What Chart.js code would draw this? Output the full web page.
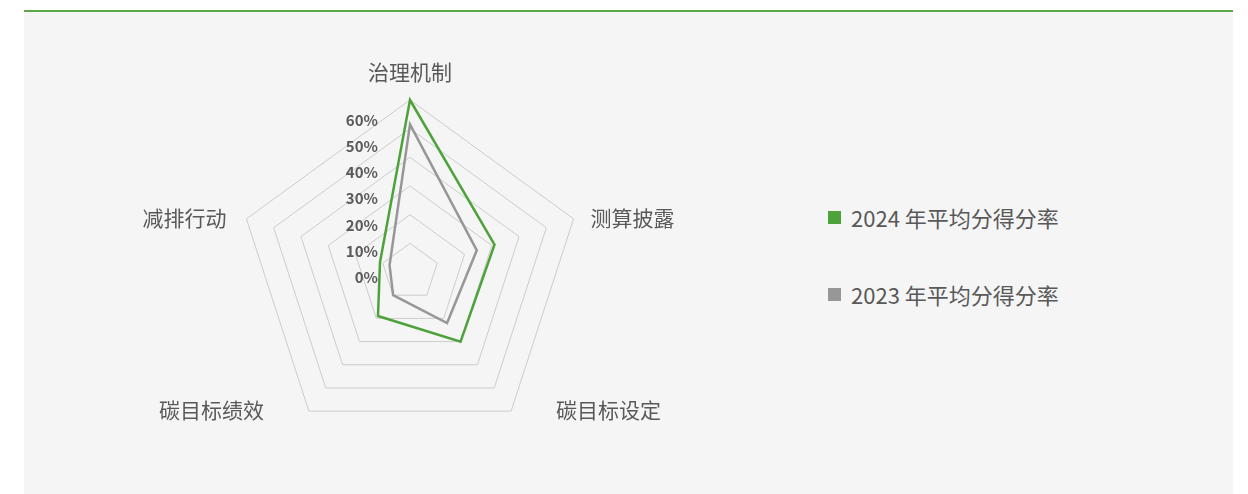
<!DOCTYPE html>
<html>
<head>
<meta charset="utf-8">
<script src="https://cdn.jsdelivr.net/npm/chart.js@4"></script>
<style>
  html, body { margin: 0; padding: 0; background: #fff; width: 1248px; height: 494px; overflow: hidden; }
  #panel {
    position: absolute; left: 24px; top: 10px; width: 1209px; height: 484px;
    background: #f5f5f5; border-top: 2px solid #5aa84a;
  }
  #chartBox { position: absolute; left: 0; top: 0; width: 772px; height: 484px; }
  #legend { position: absolute; left: 804px; top: 190px; font-family: "Noto Sans CJK SC", "Noto Sans", sans-serif; }
  .item { display: flex; align-items: center; height: 30px; margin-bottom: 47px; font-size: 22px; color: #595959; }
  .swatch { width: 13px; height: 13px; margin-right: 10px; }
</style>
</head>
<body>
<div id="panel">
  <div id="chartBox"><canvas id="radarChart"></canvas></div>
  <div id="legend"></div>
</div>
<script>
// Chart data
const categories = ["治理机制", "测算披露", "碳目标设定", "碳目标绩效", "减排行动"];
const seriesNames = ["2024 年平均分得分率", "2023 年平均分得分率"];
const score2024 = [0.60, 0.31, 0.30, 0.19, 0.11];
const score2023 = [0.515, 0.245, 0.22, 0.10, 0.075];
const tickValues = [0, 0.1, 0.2, 0.3, 0.4, 0.5, 0.6];
const tickLabels = ["0%", "10%", "20%", "30%", "40%", "50%", "60%"];
const seriesColors = ["#4ea23b", "#979797"];

const cjk = '"Noto Sans CJK SC", "Noto Sans", sans-serif';

// where each category label sits relative to its outer vertex (dx, dy, align)
const labelPlace = [
  [0, -28, "center"],
  [17, -1, "left"],
  [45, -1, "left"],
  [-45, -1, "right"],
  [-20, -1, "right"]
];

// Tick labels left of the vertical axis + category labels, like the original
const radarText = {
  id: "radarText",
  afterDraw(chart) {
    const r = chart.scales.r;
    const ctx = chart.ctx;
    ctx.save();
    ctx.font = "bold 15px " + cjk;
    ctx.fillStyle = "#595959";
    ctx.textAlign = "right";
    ctx.textBaseline = "middle";
    tickValues.forEach((v, i) => {
      const d = r.getDistanceFromCenterForValue(v);
      ctx.fillText(tickLabels[i], r.xCenter - 32, r.yCenter + 5 - d * 0.91);
    });

    ctx.font = "21px " + cjk;
    categories.forEach((c, i) => {
      const p = r.getPointPosition(i, r.drawingArea);
      const [dx, dy, align] = labelPlace[i];
      ctx.textAlign = align;
      ctx.fillText(c, p.x + dx, p.y + dy);
    });
    ctx.restore();
  }
};

new Chart(document.getElementById("radarChart"), {
  type: "radar",
  data: {
    labels: categories,
    datasets: [
      { label: seriesNames[0], data: score2024, borderColor: seriesColors[0], borderWidth: 2.5,
        backgroundColor: "transparent", pointRadius: 0, fill: false },
      { label: seriesNames[1], data: score2023, borderColor: seriesColors[1], borderWidth: 2.5,
        backgroundColor: "transparent", pointRadius: 0, fill: false }
    ]
  },
  options: {
    responsive: true,
    maintainAspectRatio: false,
    animation: false,
    layout: { padding: { top: 88, bottom: 52, left: 0, right: 0 } },
    plugins: { legend: { display: false }, tooltip: { enabled: false } },
    scales: {
      r: {
        min: 0,
        max: 0.6,
        ticks: { stepSize: 0.1, display: false },
        grid: { color: "#cccccc", lineWidth: 1 },
        angleLines: { display: false },
        pointLabels: { display: false }
      }
    }
  },
  plugins: [radarText]
});

// Legend
const legend = document.getElementById("legend");
seriesNames.forEach((name, i) => {
  const row = document.createElement("div");
  row.className = "item";
  row.innerHTML = `<span class="swatch" style="background:${seriesColors[i]}"></span>${name}`;
  legend.appendChild(row);
});
</script>
</body>
</html>
